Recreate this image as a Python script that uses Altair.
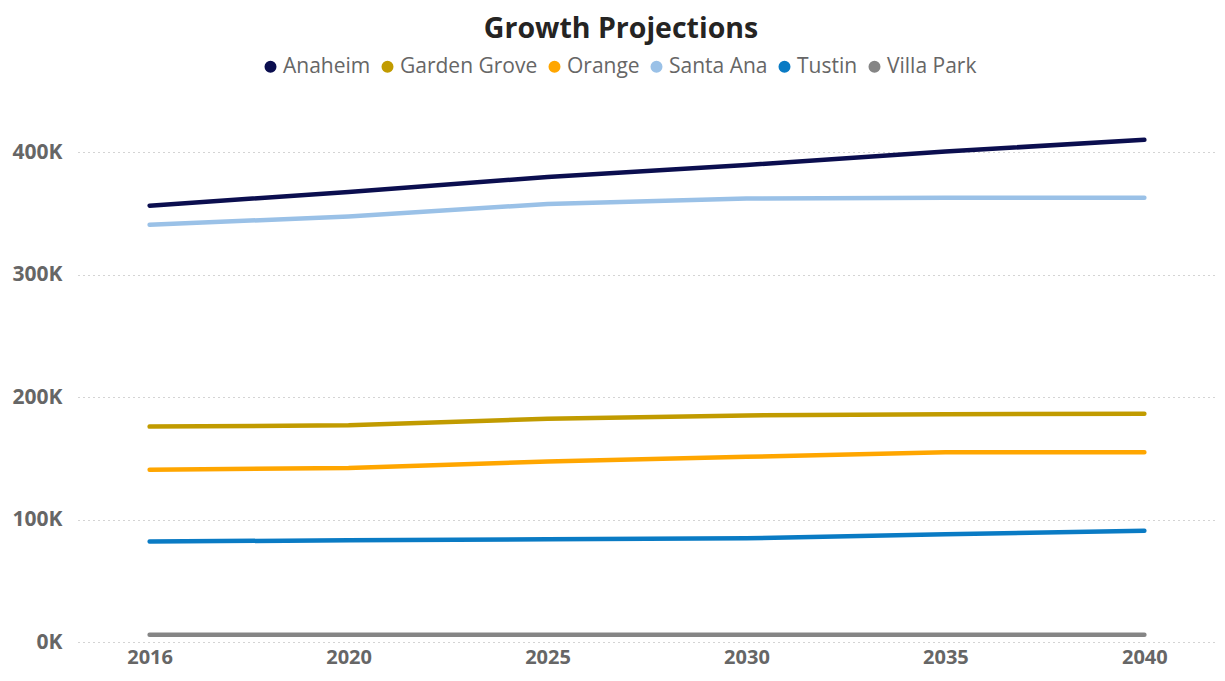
import altair as alt
import pandas as pd

years = ["2016", "2020", "2025", "2030", "2035", "2040"]
cities = ["Anaheim", "Garden Grove", "Orange", "Santa Ana", "Tustin", "Villa Park"]
colors = ["#0B0E4F", "#C19B00", "#FFA600", "#9AC1E7", "#0A7BC4", "#858585"]

anaheim = [356500, 367800, 379900, 389800, 400800, 410300]
garden_grove = [176000, 177100, 182500, 185100, 186200, 186500]
orange = [140800, 142200, 147500, 151300, 155100, 155100]
santa_ana = [340900, 347700, 357900, 362400, 363000, 363000]
tustin = [82100, 83100, 83900, 84800, 88000, 90900]
villa_park = [6000, 6000, 6000, 6000, 6000, 6000]

series = [anaheim, garden_grove, orange, santa_ana, tustin, villa_park]
rows = []
for city, vals in zip(cities, series):
    for yr, v in zip(years, vals):
        rows.append({"City": city, "Year": yr, "Value": v})
df = pd.DataFrame(rows)

FONT = "Open Sans"

chart = alt.Chart(df).mark_line(strokeWidth=4.5, strokeCap="round", strokeJoin="round").encode(
    x=alt.X("Year:O", sort=years,
            scale=alt.Scale(type="point", padding=0.36),
            axis=alt.Axis(title=None, labelAngle=0, domain=False, ticks=False, grid=False,
                          labelFontSize=20, labelFontWeight="bold", labelColor="#666666",
                          labelPadding=5, labelFont=FONT)),
    y=alt.Y("Value:Q",
            scale=alt.Scale(domain=[0, 420000], nice=False, zero=True),
            axis=alt.Axis(title=None, values=[0, 100000, 200000, 300000, 400000],
                          labelExpr="format(datum.value/1000, 'd') + 'K'",
                          domain=False, ticks=False, grid=True,
                          gridDash=[1, 4], gridColor="#A8A8A8", gridWidth=1,
                          labelFontSize=21, labelFontWeight="bold", labelColor="#666666",
                          labelPadding=16, labelFont=FONT)),
    color=alt.Color("City:N",
                    scale=alt.Scale(domain=cities, range=colors),
                    legend=alt.Legend(orient="none", direction="horizontal",
                                      legendX=182, legendY=-72, title=None,
                                      symbolType="circle", symbolSize=36,
                                      symbolStrokeWidth=6,
                                      labelFontSize=21, labelColor="#666666", labelFont=FONT,
                                      labelOffset=2, columnPadding=1)),
).properties(
    width=1138,
    height=514,
    title=alt.TitleParams("Growth Projections", fontSize=28.5, fontWeight="bold",
                          color="#252423", font=FONT, anchor="middle", dx=-26, offset=13),
    autosize=alt.AutoSizeParams(type="none"),
    padding={"left": 70, "top": 120, "right": 1, "bottom": 26},
).configure_view(stroke=None)

chart.save("out.html", embed_options={"renderer": "svg", "actions": False})
